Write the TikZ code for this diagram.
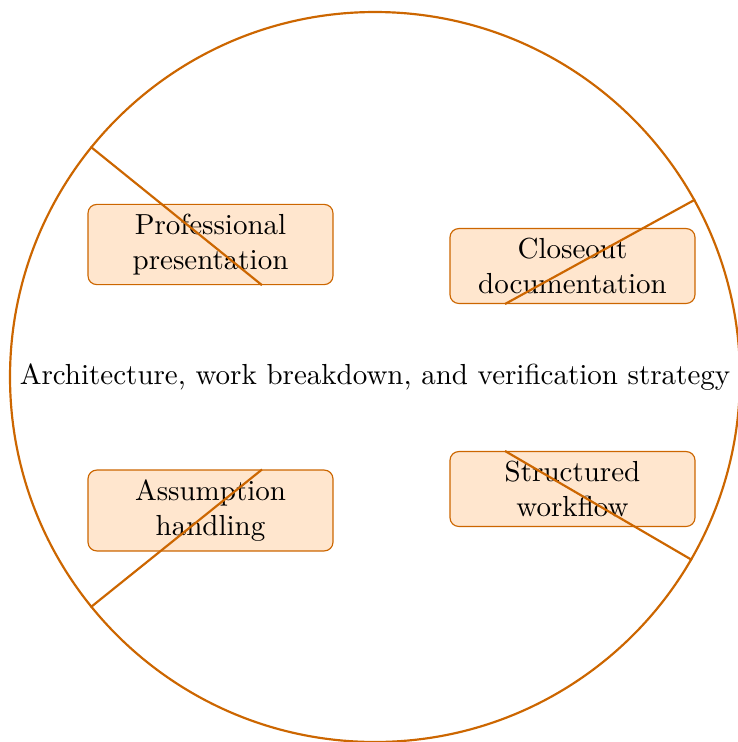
\documentclass[tikz,border=0pt]{standalone}
\usetikzlibrary{calc}
\definecolor{lineor}{RGB}{204,102,0}
\definecolor{fillor}{RGB}{255,230,206}
\tikzset{
  ring/.style={circle, draw=lineor, line width=0.75pt, minimum size=251.7pt, inner sep=0pt},
  box/.style={rectangle, rounded corners=3pt, draw=lineor, line width=0.4pt, fill=fillor,
    text width=77.8pt, align=center, inner sep=3.33pt},
  spoke/.style={draw=lineor, line width=0.75pt}
}
\begin{document}
\begin{tikzpicture}[x=0.3448pt, y=-0.3448pt]
\useasboundingbox (0,0) rectangle (738,742);
\node[ring] (c) at (375,377) {Architecture, work breakdown, and verification strategy};
\node[box] (b1) at (210.5,244.5) {Professional\\presentation};
\node[box] (b2) at (572.5,266) {Closeout\\documentation};
\node[box] (b3) at (210.5,510.5) {Assumption\\handling};
\node[box] (b4) at (572.5,489) {Structured\\workflow};
\coordinate (e1) at ($(b1.south)+(51.5,0)$);
\coordinate (e2) at ($(b2.south)+(-67.5,0)$);
\coordinate (e3) at ($(b3.north)+(51.5,0)$);
\coordinate (e4) at ($(b4.north)+(-67.5,0)$);
\draw[spoke] (c.141) -- (e1);
\draw[spoke] (c.29.4) -- (e2);
\draw[spoke] (c.219) -- (e3);
\draw[spoke] (c.330.4) -- (e4);
\end{tikzpicture}
\end{document}
